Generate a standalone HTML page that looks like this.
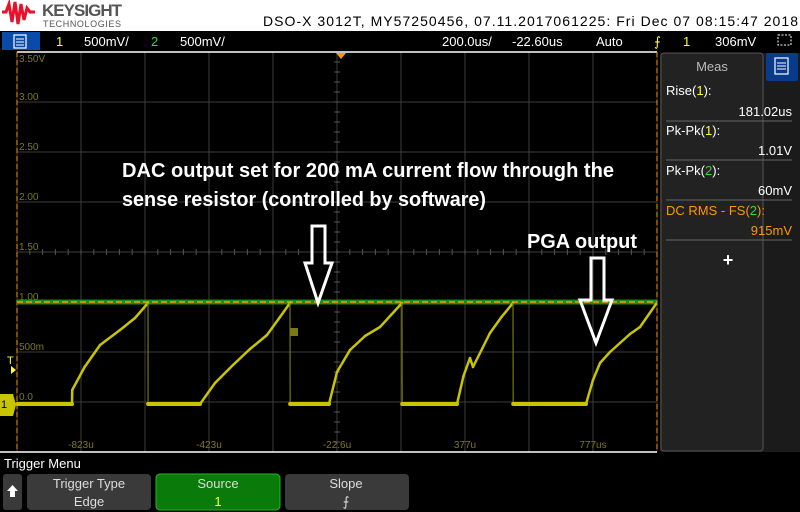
<!DOCTYPE html>
<html><head><meta charset="utf-8"><style>
html,body{margin:0;padding:0;background:#000;width:800px;height:512px;overflow:hidden}
svg{display:block}
text{font-family:"Liberation Sans",sans-serif}
</style></head><body>
<svg id="scope" width="800" height="512" viewBox="0 0 800 512" xmlns="http://www.w3.org/2000/svg">
<rect x="0" y="0" width="800" height="31" fill="#fff"/>
<g>
<path d="M2,12 L6,12 L9,4 L12,22 L15,2 L18,24 L21,4 L24,20 L27,8 L30,12 L35,12" fill="none" stroke="#e8102a" stroke-width="3"/>
<text x="42" y="16" font-size="17" font-weight="bold" fill="#555" textLength="80">KEYSIGHT</text>
<text x="43" y="27" font-size="9" fill="#555" textLength="78">TECHNOLOGIES</text>
</g>
<text x="263" y="26" font-family="Liberation Mono,monospace" font-size="14" fill="#000" textLength="535">DSO-X 3012T, MY57250456, 07.11.2017061225: Fri Dec 07 08:15:47 2018</text>

<rect x="0" y="31" width="800" height="21" fill="#000"/>
<g>
<rect x="2" y="32" width="38" height="18" fill="#0a4aa8"/>
<rect x="14" y="35" width="12" height="13" fill="none" stroke="#fff" stroke-width="1.2"/>
<line x1="16" y1="39" x2="24" y2="39" stroke="#fff"/><line x1="16" y1="42" x2="24" y2="42" stroke="#fff"/><line x1="16" y1="45" x2="24" y2="45" stroke="#fff"/>
</g>
<g font-size="13" fill="#fff">
<text x="56" y="46" fill="#ffff33">1</text>
<text x="84" y="46">500mV/</text>
<text x="151" y="46" fill="#33dd33">2</text>
<text x="180" y="46">500mV/</text>
<text x="442" y="46">200.0us/</text>
<text x="512" y="46">-22.60us</text>
<text x="596" y="46">Auto</text>
<text x="654" y="46" fill="#ffff33">⨍</text>
<text x="683" y="46" fill="#ffff33">1</text>
<text x="715" y="46">306mV</text>
</g>
<rect x="778" y="35" width="13" height="10" fill="none" stroke="#fff" stroke-dasharray="2,1.5"/>

<g id="plot"></g>

<g>
<rect x="660" y="53" width="140" height="399" fill="#1b1b1b"/>
<rect x="661" y="53" width="102" height="398" rx="3" fill="#222" stroke="#555"/>
<text x="712" y="71" font-size="13" fill="#bbb" text-anchor="middle">Meas</text>
<g>
<rect x="766" y="53" width="32" height="28" rx="2" fill="#0a3a8a"/>
<rect x="775" y="58" width="13" height="16" fill="none" stroke="#fff" stroke-width="1.2"/>
<line x1="777" y1="63" x2="786" y2="63" stroke="#fff"/><line x1="777" y1="66" x2="786" y2="66" stroke="#fff"/><line x1="777" y1="69" x2="786" y2="69" stroke="#fff"/>
</g>
<g font-size="13" fill="#fff">
<text x="666" y="95">Rise(<tspan fill="#ffff33">1</tspan>):</text>
<text x="792" y="116" text-anchor="end">181.02us</text>
<line x1="666" y1="121" x2="792" y2="121" stroke="#666"/>
<text x="666" y="135">Pk-Pk(<tspan fill="#ffff33">1</tspan>):</text>
<text x="792" y="155" text-anchor="end">1.01V</text>
<line x1="666" y1="160" x2="792" y2="160" stroke="#666"/>
<text x="666" y="175">Pk-Pk(<tspan fill="#33dd33">2</tspan>):</text>
<text x="792" y="195" text-anchor="end">60mV</text>
<line x1="666" y1="200" x2="792" y2="200" stroke="#666"/>
<text x="666" y="215" fill="#ff9900">DC RMS - FS(<tspan fill="#33dd33">2</tspan>):</text>
<text x="792" y="235" text-anchor="end" fill="#ff9900">915mV</text>
<line x1="666" y1="240" x2="792" y2="240" stroke="#666"/>
<text x="728" y="266" font-size="18" font-weight="bold" text-anchor="middle">+</text>
</g>
</g>

<text x="4" y="468" font-size="13" fill="#fff">Trigger Menu</text>
<g>
<rect x="3" y="474" width="19" height="36" rx="3" fill="#3a3a3a"/>
<path d="M12.5,485 L18,491 L15,491 L15,497 L10,497 L10,491 L7,491 Z" fill="#fff"/>
</g>
<g>
<rect x="27" y="474" width="124" height="36" rx="4" fill="#3a3a3a"/>
<text x="89" y="488" font-size="13" fill="#ddd" text-anchor="middle">Trigger Type</text>
<text x="89" y="506" font-size="13" fill="#ddd" text-anchor="middle">Edge</text>
</g>
<g>
<rect x="156" y="474" width="124" height="36" rx="4" fill="#0a7a0a" stroke="#22bb22"/>
<text x="218" y="488" font-size="13" fill="#ddd" text-anchor="middle">Source</text>
<text x="218" y="506" font-size="13" fill="#ffff33" text-anchor="middle">1</text>
</g>
<g>
<rect x="285" y="474" width="124" height="36" rx="4" fill="#3a3a3a"/>
<text x="346" y="488" font-size="13" fill="#ddd" text-anchor="middle">Slope</text>
<text x="346" y="506" font-size="13" fill="#ddd" text-anchor="middle">⨍</text>
</g>
</svg>
<script>
const vTickLabels = ["3.50V","3.00","2.50","2.00","1.50","1.00","500m","0.0"];
const vTickValues = [3.5,3.0,2.5,2.0,1.5,1.0,0.5,0.0];
const tTickLabels = ["-823u","-423u","-22.6u","377u","777us"];
const tTickValues = [-822.6,-422.6,-22.6,377.4,777.4];
const ch1Times = [-1022,-850.7,-850,-811.3,-763,-700.7,-653.8,-613.2,-613,-450.7,-403.8,-347.6,-294.5,-241.4,-200.7,-169.5,-169,-47.6,-22.6,18,65,111.8,146.2,180.5,181,352.4,372.7,393,402.4,455.5,491.4,527.4,528,755.5,777.4,799.3,830.5,861.8,893,924.3,974.3];
const ch1Volts = [-0.02,-0.02,0.12,0.35,0.57,0.72,0.84,0.99,-0.02,-0.02,0.19,0.37,0.53,0.67,0.85,0.99,-0.02,-0.02,0.3,0.52,0.66,0.75,0.87,0.99,-0.02,-0.02,0.26,0.44,0.35,0.69,0.85,0.99,-0.02,-0.02,0.22,0.39,0.5,0.59,0.68,0.75,0.98];
const ch2Level = [1.0];
const trigLevel = [1.0];

const X0=17,X1=657,Y0=52,Y1=452,TMIN=-1022.6,TMAX=977.4,VMIN=-0.5,VMAX=3.5;
const xs=t=>X0+(t-TMIN)/(TMAX-TMIN)*(X1-X0);
const ys=v=>Y1-(v-VMIN)/(VMAX-VMIN)*(Y1-Y0);
const NS="http://www.w3.org/2000/svg";
const plot=document.getElementById('plot');
function mk(tag,attrs,parent){const e=document.createElementNS(NS,tag);for(const k in attrs)e.setAttribute(k,attrs[k]);(parent||plot).appendChild(e);return e;}

const bg=mk('rect',{x:X0,y:Y0,width:X1-X0,height:Y1-Y0,fill:'#000'});


for(let i=0;i<=10;i++){const x=X0+i*64;const l=mk('line',{x1:x,y1:Y0,x2:x,y2:Y1,stroke:'#3c3c3c'});

}
for(let i=0;i<=8;i++){const y=Y0+i*50;const l=mk('line',{x1:X0,y1:y,x2:X1,y2:y,stroke:'#3c3c3c'});

}
const cx=(X0+X1)/2, cy=(Y0+Y1)/2;
for(let y=Y0;y<=Y1;y+=10){mk('line',{x1:cx-3,y1:y,x2:cx+3,y2:y,stroke:'#555'});}
for(let x=X0;x<=X1;x+=12.8){mk('line',{x1:x,y1:cy-3,x2:x,y2:cy+3,stroke:'#555'});}
mk('line',{x1:X0,y1:Y0,x2:X1,y2:Y0,stroke:'#fff','stroke-width':1.5});
mk('line',{x1:0,y1:Y1,x2:X1,y2:Y1,stroke:'#fff','stroke-width':1.5});
mk('line',{x1:X0,y1:Y0,x2:X0,y2:Y1,stroke:'#ff9900','stroke-dasharray':'5,3'});
mk('line',{x1:X1,y1:Y0,x2:X1,y2:Y1,stroke:'#ff9900','stroke-dasharray':'5,3'});

vTickLabels.forEach((s,i)=>{const y=i===0?ys(vTickValues[i])+10:ys(vTickValues[i])-2;
const t=mk('text',{x:19,y:y,'font-family':'Liberation Mono,monospace','font-size':10,fill:'#7a7a20'});t.textContent=s;

});
tTickLabels.forEach((s,i)=>{const t=mk('text',{x:xs(tTickValues[i]),y:448,'text-anchor':'middle','font-family':'Liberation Mono,monospace','font-size':10,fill:'#7a7a20'});t.textContent=s;

});

const c2=mk('line',{x1:X0,y1:ys(ch2Level[0]),x2:X1,y2:ys(ch2Level[0]),stroke:'#1f8a1f','stroke-width':5});


const tl=mk('line',{x1:X0,y1:ys(trigLevel[0]),x2:X1,y2:ys(trigLevel[0]),stroke:'#ff9900','stroke-width':1.5,'stroke-dasharray':'6,3'});



// draw ch1: thin dim drops, thicker ramps / baseline
const ch1=mk('g',{});


for(let i=1;i<ch1Times.length;i++){
  const x1=xs(ch1Times[i-1]),y1=ys(ch1Volts[i-1]),x2=xs(ch1Times[i]),y2=ys(ch1Volts[i]);
  const drop=(ch1Volts[i]<ch1Volts[i-1]-0.5);
  const flat=Math.abs(y2-y1)<0.5;
  mk('line',{x1:x1,y1:y1,x2:x2,y2:y2,stroke:drop?'#7a7700':'#c8c400','stroke-width':drop?1.2:(flat?4:2.5),'stroke-linecap':drop?'butt':'round'},ch1);
}

const sq=mk('rect',{x:290,y:328,width:8,height:8,fill:'#7a7a10'});


const tp=mk('path',{d:'M336,53 L346,53 L341,59 Z',fill:'#ff9900'});


const tm=mk('text',{x:7,y:364,'font-size':11,fill:'#ffff33'});tm.textContent='T';


mk('path',{d:'M11,366 L16,370 L11,374 Z',fill:'#ffff33'});
const g1=mk('path',{d:'M0,394 L13,394 L16,405 L13,416 L0,416 Z',fill:'#c8c400'});


const g1t=mk('text',{x:1,y:408,'font-size':11,fill:'#000'});g1t.textContent='1';

const a1=mk('path',{d:'M312,226 L325,226 L325,263 L332,263 L318,303 L305,263 L312,263 Z',fill:'none',stroke:'#fff','stroke-width':3});


const a2=mk('path',{d:'M591,258 L604,258 L604,300 L612,300 L596,343 L580,300 L591,300 Z',fill:'none',stroke:'#fff','stroke-width':3});


const n1=mk('text',{x:122,y:177,'font-size':20,'font-weight':'bold',fill:'#fff',textLength:492,lengthAdjust:'spacingAndGlyphs'});n1.textContent='DAC output set for 200 mA current flow through the';


const n2=mk('text',{x:122,y:206,'font-size':20,'font-weight':'bold',fill:'#fff',textLength:364,lengthAdjust:'spacingAndGlyphs'});n2.textContent='sense resistor (controlled by software)';


const n3=mk('text',{x:527,y:248,'font-size':20,'font-weight':'bold',fill:'#fff',textLength:110,lengthAdjust:'spacingAndGlyphs'});n3.textContent='PGA output';


</script>
</body></html>
